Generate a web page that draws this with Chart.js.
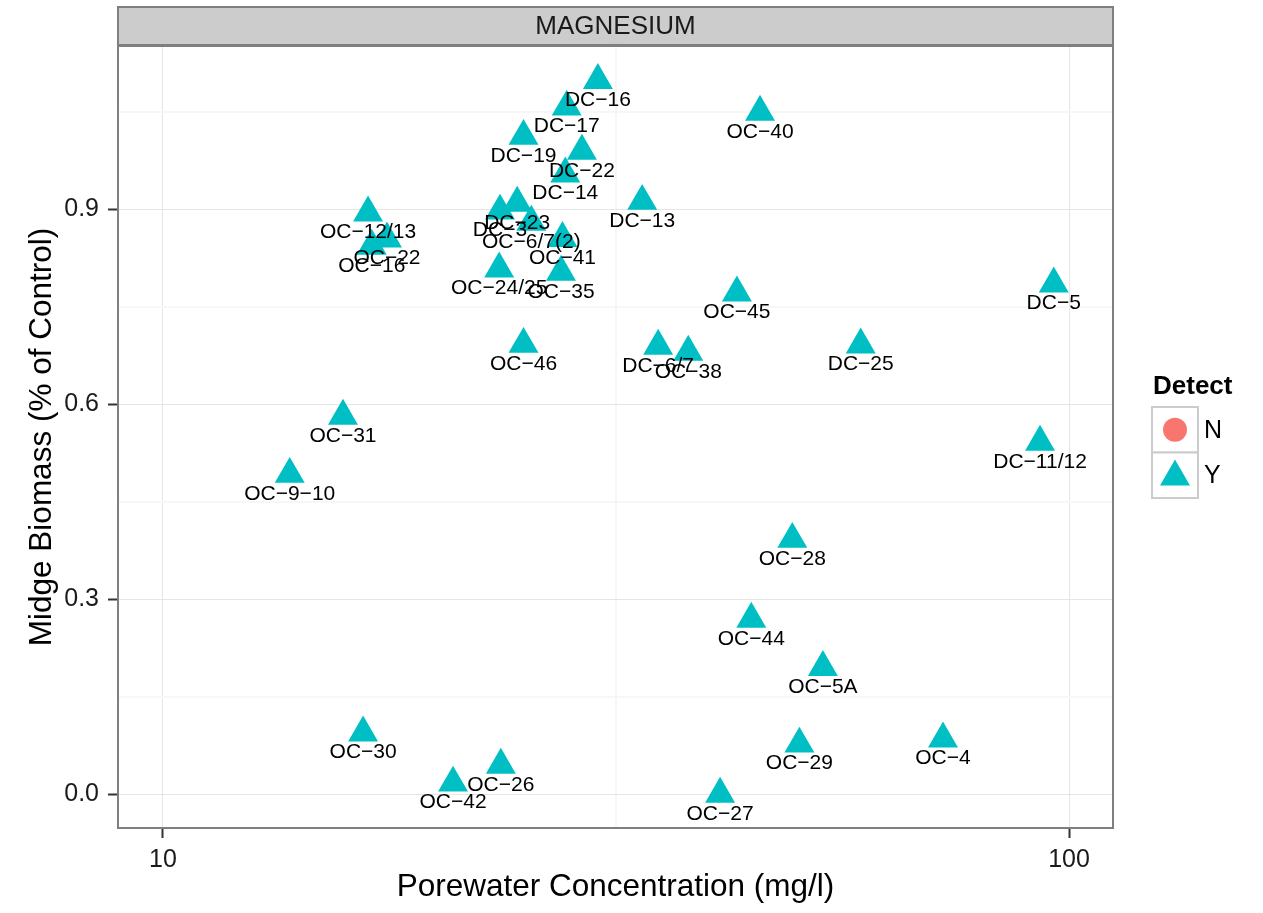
<!DOCTYPE html>
<html>
<head>
<meta charset="utf-8">
<script src="https://cdn.jsdelivr.net/npm/chart.js@4.4.1/dist/chart.umd.min.js"></script>
<style>
html,body{margin:0;padding:0;background:#ffffff;}
#wrap{width:1263px;height:913px;position:relative;}
</style>
</head>
<body>
<div id="wrap"><canvas id="c" width="1263" height="913"></canvas></div>
<script>
// ---- data ----
const sites = ["DC−16","DC−17","DC−19","DC−22","DC−14","DC−13","OC−40","OC−12/13","OC−22","OC−16",
  "DC−3","DC−23","OC−6/7(2)","OC−41","OC−24/25","OC−35","DC−5","OC−45","DC−6/7","OC−38",
  "DC−25","OC−46","DC−11/12","OC−31","OC−9−10","OC−30","OC−26","OC−42","OC−28","OC−44",
  "OC−5A","OC−29","OC−4","OC−27"];
const concentration = [30.2,27.9,25.0,29.0,27.8,33.8,45.6,16.84,17.67,17.0,
  23.55,24.6,25.5,27.6,23.5,27.5,96.2,43.0,35.2,38.0,
  58.9,25.0,92.9,15.8,13.8,16.63,23.6,20.9,49.5,44.6,
  53.5,50.4,72.6,41.2];
const biomass = [1.098,1.057,1.012,0.989,0.954,0.912,1.049,0.894,0.854,0.843,
  0.897,0.909,0.880,0.855,0.808,0.803,0.785,0.771,0.689,0.680,
  0.691,0.692,0.5415,0.5815,0.492,0.094,0.0446,0.017,0.392,0.269,
  0.195,0.077,0.085,0.0];
const detect = sites.map(() => "Y");
const detectLevels = ["N","Y"];
const detectColors = ["#F8766D","#00BFC4"];
const detectShapes = ["circle","triangle"];
const xMajorTicks = [10, 100];
const xMinorTicks = [31.6227766];
const yMajorTicks = [0, 0.3, 0.6, 0.9];
const yMinorTicks = [0.15, 0.45, 0.75, 1.05];
const facetLabel = "MAGNESIUM";
const legendTitle = "Detect";
const xTitle = "Porewater Concentration (mg/l)";
const yTitle = "Midge Biomass (% of Control)";

// ---- chart ----
Chart.defaults.font.family = "'Liberation Sans', Arial, Helvetica, sans-serif";
const FONT = "'Liberation Sans', Arial, Helvetica, sans-serif";

const datasets = detectLevels.map((lvl, k) => ({
  label: lvl,
  data: sites.map((s, i) => ({x: concentration[i], y: biomass[i], site: s}))
             .filter((p, i) => detect[i] === lvl),
  pointStyle: detectShapes[k],
  pointRadius: detectShapes[k] === "triangle" ? 17.3 : 12,
  pointBackgroundColor: detectColors[k],
  pointBorderWidth: 0,
  pointHoverRadius: 17.3,
  showLine: false
}));

const isIn = (arr, v) => arr.some(a => Math.abs(a - v) < 1e-9);

const panelPlugin = {
  id: "panel",
  afterDatasetsDraw(chart) {
    const ctx = chart.ctx;
    // point labels below each point
    ctx.save();
    ctx.fillStyle = "#000000";
    ctx.font = "21px " + FONT;
    ctx.textAlign = "center";
    ctx.textBaseline = "alphabetic";
    chart.data.datasets.forEach((ds, di) => {
      const meta = chart.getDatasetMeta(di);
      meta.data.forEach((el, i) => {
        ctx.fillText(ds.data[i].site, el.x, el.y + 25.5);
      });
    });
    ctx.restore();
  },
  afterDraw(chart) {
    const ctx = chart.ctx;
    const a = chart.chartArea;
    ctx.save();
    // panel border
    ctx.strokeStyle = "#7F7F7F";
    ctx.lineWidth = 2;
    ctx.strokeRect(a.left, a.top, a.right - a.left, a.bottom - a.top);
    // strip
    ctx.fillStyle = "#CCCCCC";
    ctx.fillRect(a.left, 7, a.right - a.left, a.top - 8);
    ctx.strokeRect(a.left, 7, a.right - a.left, a.top - 8);
    ctx.fillStyle = "#1A1A1A";
    ctx.font = "26px " + FONT;
    ctx.textAlign = "center";
    ctx.textBaseline = "middle";
    ctx.fillText(facetLabel, (a.left + a.right) / 2, 27);
    // legend
    ctx.textAlign = "left";
    ctx.fillStyle = "#000000";
    ctx.font = "bold 26px " + FONT;
    ctx.fillText(legendTitle, 1153, 387);
    const boxX = 1152, boxW = 46, boxH = 45.5, boxY0 = 407;
    chart.data.datasets.forEach((ds, k) => {
      const by = boxY0 + k * boxH;
      ctx.fillStyle = "#FFFFFF";
      ctx.fillRect(boxX, by, boxW, boxH);
      ctx.strokeStyle = "#CCCCCC";
      ctx.lineWidth = 2;
      ctx.strokeRect(boxX, by, boxW, boxH);
      const cx = boxX + boxW / 2, cy = by + boxH / 2;
      ctx.fillStyle = ds.pointBackgroundColor;
      ctx.beginPath();
      if (ds.pointStyle === "circle") {
        ctx.arc(cx, cy, 12, 0, Math.PI * 2);
      } else {
        const r = 17.3, ty = cy + 1.5;
        ctx.moveTo(cx, ty - r);
        ctx.lineTo(cx + 0.866 * r, ty + r / 2);
        ctx.lineTo(cx - 0.866 * r, ty + r / 2);
        ctx.closePath();
      }
      ctx.fill();
      ctx.fillStyle = "#000000";
      ctx.font = "25px " + FONT;
      ctx.textBaseline = "middle";
      ctx.fillText(ds.label, 1204, cy + 1);
    });
    ctx.restore();
  }
};

new Chart(document.getElementById("c"), {
  type: "scatter",
  data: {datasets},
  options: {
    responsive: false,
    devicePixelRatio: 1,
    animation: false,
    events: [],
    layout: {padding: {left: 0, top: 46, right: 150, bottom: 0}},
    plugins: {legend: {display: false}, tooltip: {enabled: false}},
    scales: {
      x: {
        type: "logarithmic",
        min: 8.92,
        max: 111.83,
        afterBuildTicks: s => {
          s.ticks = [...xMajorTicks, ...xMinorTicks].sort((p, q) => p - q).map(v => ({value: v}));
        },
        afterFit: s => { s.height = 85; },
        ticks: {
          autoSkip: false, maxRotation: 0, minRotation: 0, padding: 7,
          color: "#1A1A1A", font: {size: 25},
          callback: v => isIn(xMajorTicks, v) ? String(v) : ""
        },
        grid: {
          color: c => isIn(xMajorTicks, c.tick.value) ? "#E5E5E5" : "#F7F7F7",
          lineWidth: c => isIn(xMajorTicks, c.tick.value) ? 1 : 2,
          tickColor: c => isIn(xMajorTicks, c.tick.value) ? "#333333" : "rgba(0,0,0,0)",
          tickLength: 10, tickWidth: 2
        },
        border: {display: false},
        title: {display: true, text: xTitle, color: "#000000", font: {size: 31.5}, padding: {top: 0, bottom: 7}}
      },
      y: {
        type: "linear",
        min: -0.0523,
        max: 1.1508,
        afterBuildTicks: s => {
          s.ticks = [...yMajorTicks, ...yMinorTicks].sort((p, q) => p - q).map(v => ({value: v}));
        },
        afterFit: s => { s.width = 118; },
        ticks: {
          autoSkip: false, padding: 9,
          color: "#1A1A1A", font: {size: 25},
          callback: v => isIn(yMajorTicks, v) ? v.toFixed(1) : ""
        },
        grid: {
          color: c => isIn(yMajorTicks, c.tick.value) ? "#E5E5E5" : "#F7F7F7",
          lineWidth: c => isIn(yMajorTicks, c.tick.value) ? 1 : 2,
          tickColor: c => isIn(yMajorTicks, c.tick.value) ? "#333333" : "rgba(0,0,0,0)",
          tickLength: 10, tickWidth: 2
        },
        border: {display: false},
        title: {display: true, text: yTitle, color: "#000000", font: {size: 31.5}, padding: {top: 23, bottom: 0}}
      }
    }
  },
  plugins: [panelPlugin]
});
</script>
</body>
</html>
